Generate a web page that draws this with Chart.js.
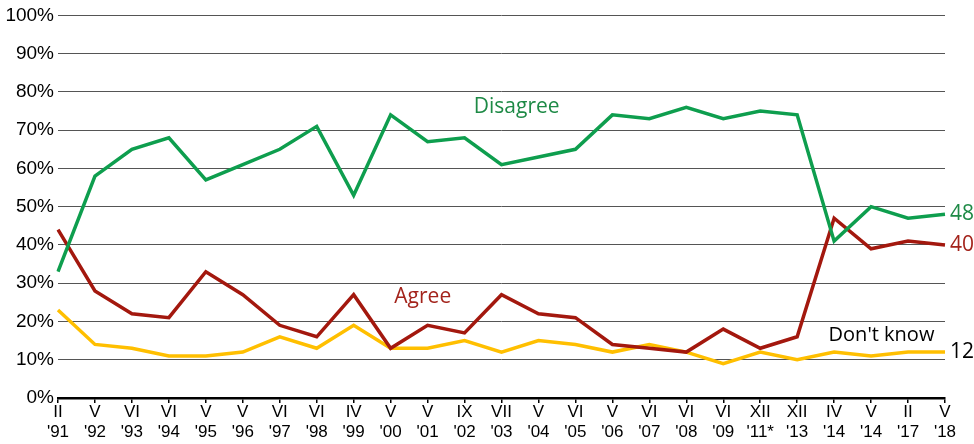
<!DOCTYPE html>
<html><head><meta charset="utf-8">
<script src="https://cdn.jsdelivr.net/npm/chart.js@4/dist/chart.umd.min.js"></script>
<style>html,body{margin:0;padding:0;background:#fff}#w{width:974px;height:444px}</style>
</head><body><div id="w"><canvas id="c"></canvas></div>
<script>
const categories = [["II","'91"],["V","'92"],["VI","'93"],["VI","'94"],["V","'95"],["V","'96"],["VI","'97"],["VI","'98"],["IV","'99"],["V","'00"],["V","'01"],["IX","'02"],["VII","'03"],["V","'04"],["VI","'05"],["V","'06"],["VI","'07"],["VI","'08"],["VI","'09"],["XII","'11*"],["XII","'13"],["IV","'14"],["V","'14"],["II","'17"],["V","'18"]];
const disagree = [33,58,65,68,57,61,65,71,53,74,67,68,61,63,65,74,73,76,73,75,74,41,50,47,48];
const agree = [44,28,22,21,33,27,19,16,27,13,19,17,27,22,21,14,13,12,18,13,16,47,39,41,40];
const dontKnow = [23,14,13,11,11,12,16,13,19,13,13,15,12,15,14,12,14,12,9,12,10,12,11,12,12];
const yTicks = [0,10,20,30,40,50,60,70,80,90,100];

const FONT = "'Liberation Sans', Arial, sans-serif";
const labelsPlugin = {
  id: 'lbl',
  afterDatasetsDraw(chart) {
    const ctx = chart.ctx, x = chart.scales.x, y = chart.scales.y;
    ctx.save();
    ctx.textBaseline = 'middle';
    ctx.textAlign = 'left';
    ctx.font = "21px 'Open Sans', sans-serif";
    ctx.fillStyle = '#1E8A46';
    ctx.fillText('Disagree', x.getPixelForValue(11.25), y.getPixelForValue(76));
    ctx.fillStyle = '#A3231B';
    ctx.fillText('Agree', x.getPixelForValue(9.1), y.getPixelForValue(26.3));
    ctx.font = "20px 'Open Sans', sans-serif";
    ctx.fillStyle = '#000';
    ctx.fillText("Don't know", x.getPixelForValue(20.85), y.getPixelForValue(16.5));
    const n = categories.length - 1, xr = x.getPixelForValue(n) + 5;
    ctx.font = "21px 'Open Sans', sans-serif";
    ctx.fillStyle = '#1E8A46'; ctx.fillText(String(disagree[n]), xr, y.getPixelForValue(disagree[n]));
    ctx.fillStyle = '#A3231B'; ctx.fillText(String(agree[n]), xr, y.getPixelForValue(agree[n]));
    ctx.fillStyle = '#000'; ctx.fillText(String(dontKnow[n]), xr, y.getPixelForValue(dontKnow[n]));
    ctx.restore();
  }
};

new Chart(document.getElementById('c'), {
  type: 'line',
  data: {
    labels: categories,
    datasets: [
      {label:'Disagree', data: disagree, borderColor:'#0E9E4E', borderWidth:3.5, pointRadius:0, tension:0},
      {label:'Agree', data: agree, borderColor:'#A3180E', borderWidth:3.5, pointRadius:0, tension:0},
      {label:"Don't know", data: dontKnow, borderColor:'#FFBF00', borderWidth:3.5, pointRadius:0, tension:0}
    ]
  },
  options: {
    responsive: true, maintainAspectRatio: false, animation: false,
    layout: {padding: {top: 15, right: 29, left: 0, bottom: 0}},
    plugins: {legend:{display:false}, tooltip:{enabled:false}},
    scales: {
      x: {
        offset: false,
        grid: {display:true, drawOnChartArea:false, drawTicks:true, tickLength:5, color:'#000', lineWidth:1.5},
        border: {display:true, color:'#000', width:2.5},
        ticks: {color:'#000', font:{family:FONT, size:17, lineHeight:1.15}, padding:0, maxRotation:0, autoSkip:false},
        afterFit: s => { s.height = 46; }
      },
      y: {
        min: 0, max: 100,
        afterBuildTicks: s => { s.ticks = yTicks.map(v => ({value:v})); },
        grid: {color:'#555', lineWidth:1, drawTicks:false},
        border: {display:false},
        ticks: {color:'#000', font:{family:FONT, size:19}, padding:4, callback: v => v + '%'},
        afterFit: s => { s.width = 58; }
      }
    }
  },
  plugins: [labelsPlugin]
});
</script></body></html>
